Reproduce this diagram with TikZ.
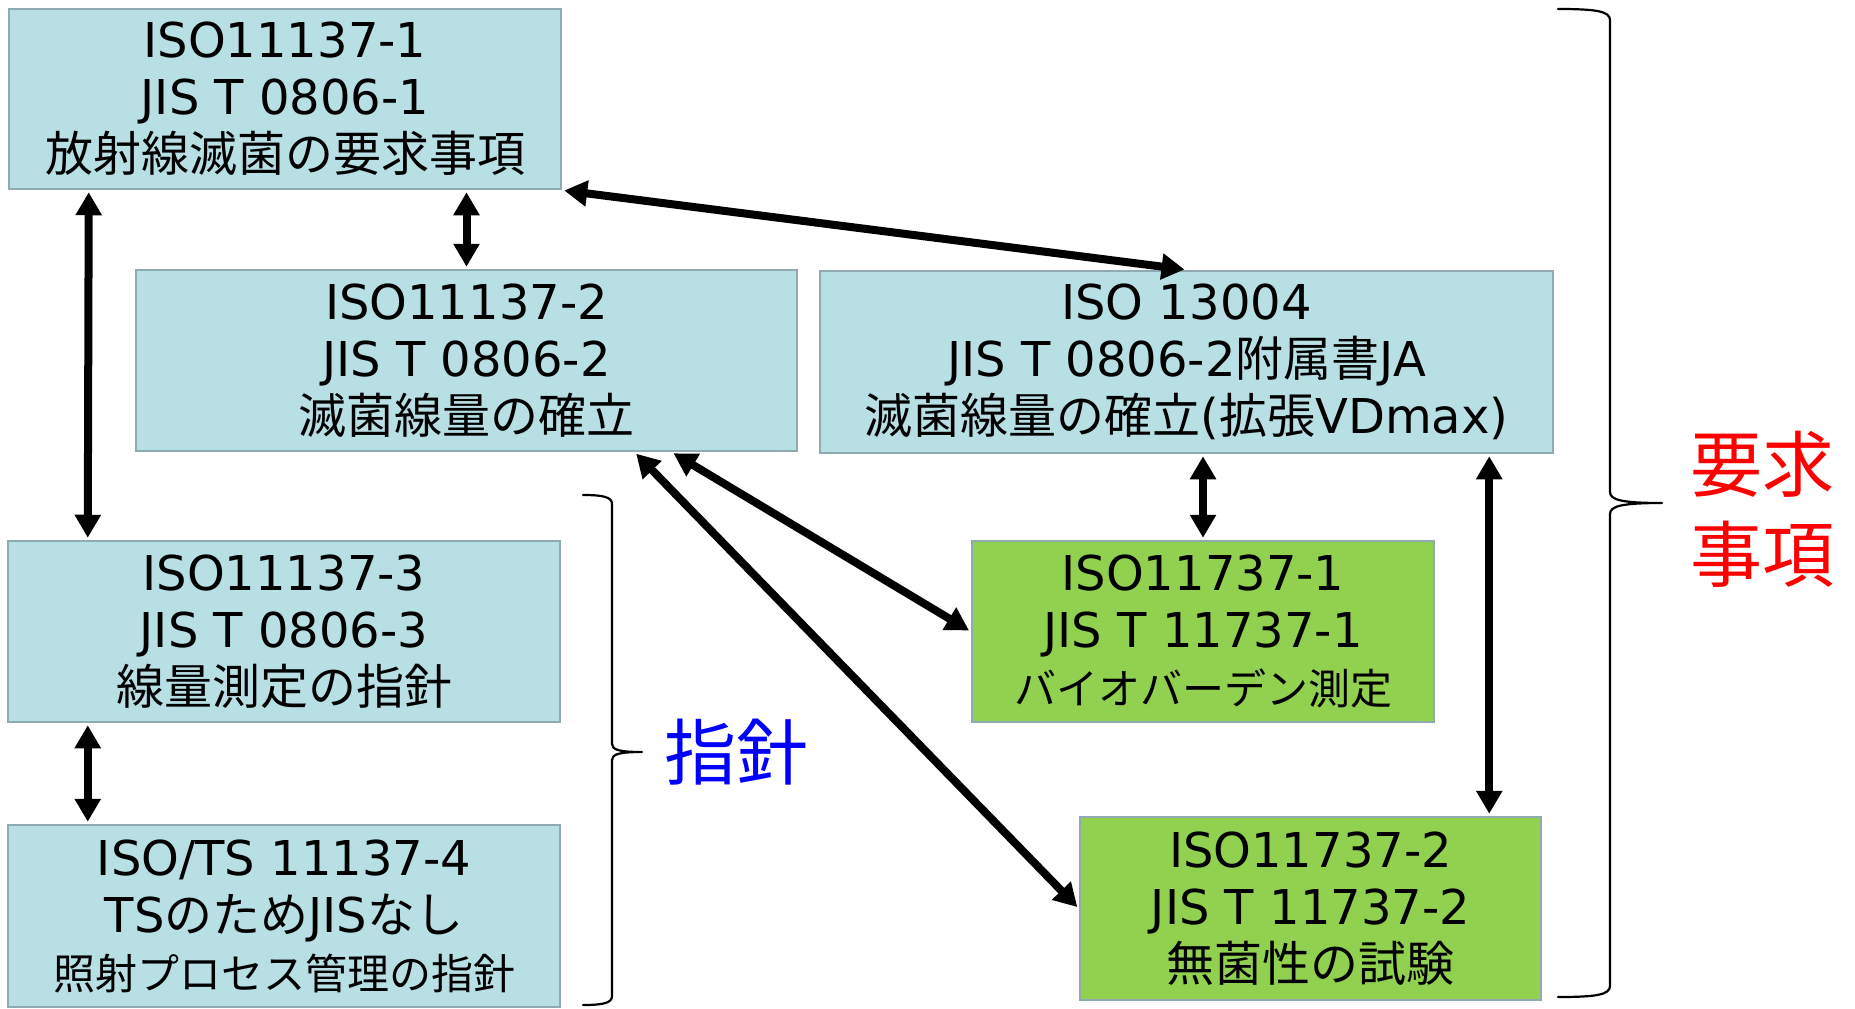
\documentclass[tikz,border=0pt]{standalone}
\usepackage{fontspec}
\setmainfont{DejaVu Sans}
\newfontfamily\ja{Noto Sans CJK JP}
\usetikzlibrary{arrows.meta,calc}
\definecolor{boxblue}{HTML}{B8DFE4}
\definecolor{boxgreen}{HTML}{92D050}
\definecolor{boxline}{HTML}{8FAAB0}
\newcommand\J[1]{{\ja #1}}
\newcommand\smallline{\fontsize{42}{57}\selectfont}
\begin{document}
\begin{tikzpicture}[x=1pt,y=-1pt,
  box/.style={draw=boxline, line width=2.5pt, inner sep=0pt, align=center,
    font=\fontsize{48}{57}\selectfont},
  bluebox/.style={box, fill=boxblue},
  greenbox/.style={box, fill=boxgreen},
  arr/.style={line width=8pt,
    {Triangle[length=23pt,width=25pt]}-{Triangle[length=23pt,width=25pt]},
    shorten <=2pt, shorten >=2pt},
  brace/.style={line width=2.2pt, line join=round, line cap=round},
  biglabel/.style={font=\ja\fontsize{72}{90}\selectfont, align=center, inner sep=0pt}]
\useasboundingbox (0,0) rectangle (1855,1009);

% boxes
\node[bluebox, minimum width=552pt, minimum height=180pt] (b1) at (285,99)
  {ISO11137-1\\JIS T 0806-1\\\J{放射線滅菌の要求事項}};
\node[bluebox, minimum width=661pt, minimum height=181pt] (b2) at (466.5,360.5)
  {ISO11137-2\\JIS T 0806-2\\\J{滅菌線量の確立}};
\node[bluebox, minimum width=733pt, minimum height=182pt] (b3) at (1186.5,362)
  {ISO 13004\\JIS T 0806-2\J{附属書}JA\\\J{滅菌線量の確立}(\J{拡張}VDmax)};
\node[bluebox, minimum width=552pt, minimum height=181pt] (b4) at (284,631.5)
  {ISO11137-3\\JIS T 0806-3\\\J{線量測定の指針}};
\node[bluebox, minimum width=552pt, minimum height=182pt] (b5) at (284,916)
  {ISO/TS 11137-4\\TS\J{のため}JIS\J{なし}\\{\smallline\J{照射プロセス管理の指針}}};
\node[greenbox, minimum width=462pt, minimum height=181pt] (b6) at (1203,631.5)
  {ISO11737-1\\JIS T 11737-1\\{\smallline\J{バイオバーデン測定}}};
\node[greenbox, minimum width=461pt, minimum height=183pt] (b7) at (1310.5,908.5)
  {ISO11737-2\\JIS T 11737-2\\\J{無菌性の試験}};

% connectors
\draw[arr] ([xshift=81pt]b1.south west) -- ([xshift=81pt]b4.north west);
\draw[arr] (b2.north |- b1.south) -- (b2.north);
\draw[arr] (b1.south east) -- (b3.north);
\draw[arr] ([xshift=537pt]b2.south west) -- (b6.west);
\draw[arr] ([xshift=500pt]b2.south west) -- (b7.west);
\draw[arr] (b3.south -| b6.north) -- (b6.north);
\draw[arr] ([xshift=-65pt]b3.south east) -- ([xshift=-65pt]b3.south east |- b7.north);
\draw[arr] ([xshift=81pt]b4.south west) -- ([xshift=81pt]b5.north west);

% right brace
\draw[brace] (1558,9) .. controls (1595,9) and (1610,11) .. (1610,20)
  -- (1610,492) .. controls (1610,500) and (1622,503) .. (1662,503)
  .. controls (1622,503) and (1610,506) .. (1610,514)
  -- (1610,986) .. controls (1610,995) and (1595,997) .. (1558,997);
\node[biglabel, text=red] (req) at (1762,509) {要求\\事項};

% left brace
\draw[brace] (583,495) .. controls (603,495) and (612,497) .. (612,504)
  -- (612,744) .. controls (612,750) and (620,752) .. (642,752)
  .. controls (620,752) and (612,754) .. (612,760)
  -- (612,996) .. controls (612,1003) and (603,1005) .. (583,1005);
\node[biglabel, text=blue] (guide) at (736,752) {指針};
\end{tikzpicture}
\end{document}
